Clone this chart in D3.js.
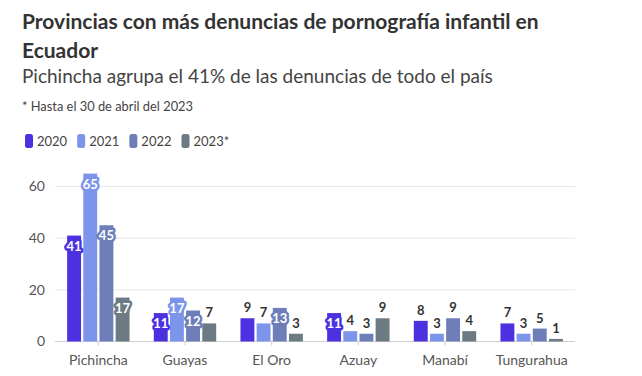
<!DOCTYPE html>
<html><head><meta charset="utf-8">
<script src="https://cdn.jsdelivr.net/npm/d3@7"></script>
<style>
body{margin:0;background:#fff;font-family:Lato,"Noto Sans",sans-serif;}
</style></head>
<body><svg id="c" width="642" height="376"></svg>
<script>
const categories = ["Pichincha","Guayas","El Oro","Azuay","Manabí","Tungurahua"];
const seriesNames = ["2020","2021","2022","2023*"];
const v2020 = [41,11,9,11,8,7];
const v2021 = [65,17,7,4,3,3];
const v2022 = [45,12,13,3,9,5];
const v2023 = [17,7,3,9,4,1];
const yTicks = [0,20,40,60];
const colors = ["#4c31e0","#7c95ea","#6e7eb9","#6b7a83"];

const series = [v2020,v2021,v2022,v2023];
const svg = d3.select("#c");

svg.append("text").attr("x",22).attr("y",29).attr("font-size",21).attr("font-weight",700).attr("fill","#333")
  .text("Provincias con más denuncias de pornografía infantil en");
svg.append("text").attr("x",22).attr("y",58).attr("font-size",21).attr("font-weight",700).attr("fill","#333")
  .text("Ecuador");
svg.append("text").attr("x",22).attr("y",83).attr("font-size",19).attr("fill","#444")
  .text("Pichincha agrupa el 41% de las denuncias de todo el país");
svg.append("text").attr("x",22).attr("y",111).attr("font-size",14).attr("fill","#444")
  .attr("textLength",171).attr("lengthAdjust","spacingAndGlyphs")
  .text("* Hasta el 30 de abril del 2023");

// legend
const leg = svg.append("g");
let lx = 25;
seriesNames.forEach((n,i)=>{
  leg.append("rect").attr("x",lx).attr("y",134).attr("width",8).attr("height",14).attr("rx",2.5).attr("fill",colors[i]);
  const t = leg.append("text").attr("x",lx+12).attr("y",146).attr("font-size",13).attr("fill","#444").text(n);
  lx += 12 + t.node().getComputedTextLength() + 10;
});

const x0 = d3.scaleBand().domain(categories).range([55,575]).paddingInner(0.28).paddingOuter(0.14);
const x1 = d3.scaleBand().domain(seriesNames).range([0,x0.bandwidth()]).paddingInner(0.14);
const y = d3.scaleLinear().domain([0,60]).range([341.5,186.5]);

// grid
const grid = svg.append("g");
yTicks.forEach(t=>{
  grid.append("line").attr("x1",55).attr("x2",575).attr("y1",y(t)).attr("y2",y(t))
    .attr("stroke", t===0 ? "#d0d0d0" : "#e6e6e6").attr("stroke-width",1);
});
const yAxis = d3.axisLeft(y).tickValues(yTicks).tickSize(0).tickPadding(0);
const ya = svg.append("g").attr("transform","translate(45,0)").call(yAxis);
ya.select(".domain").remove();
ya.selectAll("text").attr("font-size",14).attr("fill","#555").attr("font-family","Lato,'Noto Sans',sans-serif");

const xAxis = d3.axisBottom(x0).tickSize(4).tickPadding(10);
const xa = svg.append("g").attr("transform",`translate(0,${y(0)})`).call(xAxis);
xa.select(".domain").remove();
xa.selectAll("line").attr("stroke","#d0d0d0");
xa.selectAll("text").attr("font-size",14).attr("fill","#555").attr("font-family","Lato,'Noto Sans',sans-serif");

const data = [];
categories.forEach((c,ci)=>seriesNames.forEach((s,si)=>data.push({c,s,si,v:series[si][ci]})));

const g = svg.append("g");
g.selectAll("rect").data(data).join("rect")
  .attr("x",d=>x0(d.c)+x1(d.s)).attr("width",x1.bandwidth())
  .attr("y",d=>y(d.v)).attr("height",d=>y(0)-y(d.v)).attr("fill",d=>colors[d.si]);

g.selectAll("text.lab").data(data).join("text").attr("class","lab")
  .attr("x",d=>x0(d.c)+x1(d.s)+x1.bandwidth()/2)
  .attr("y",d=>d.v>=10 ? y(d.v)+15 : y(d.v)-6)
  .attr("text-anchor","middle").attr("font-size",13).attr("font-weight",700)
  .attr("fill",d=>d.v>=10 ? "#fff" : "#333")
  .attr("stroke",d=>d.v>=10 ? colors[d.si] : "none")
  .attr("stroke-width",5).attr("stroke-linejoin","round").attr("paint-order","stroke")
  .text(d=>d.v);
</script></body></html>
